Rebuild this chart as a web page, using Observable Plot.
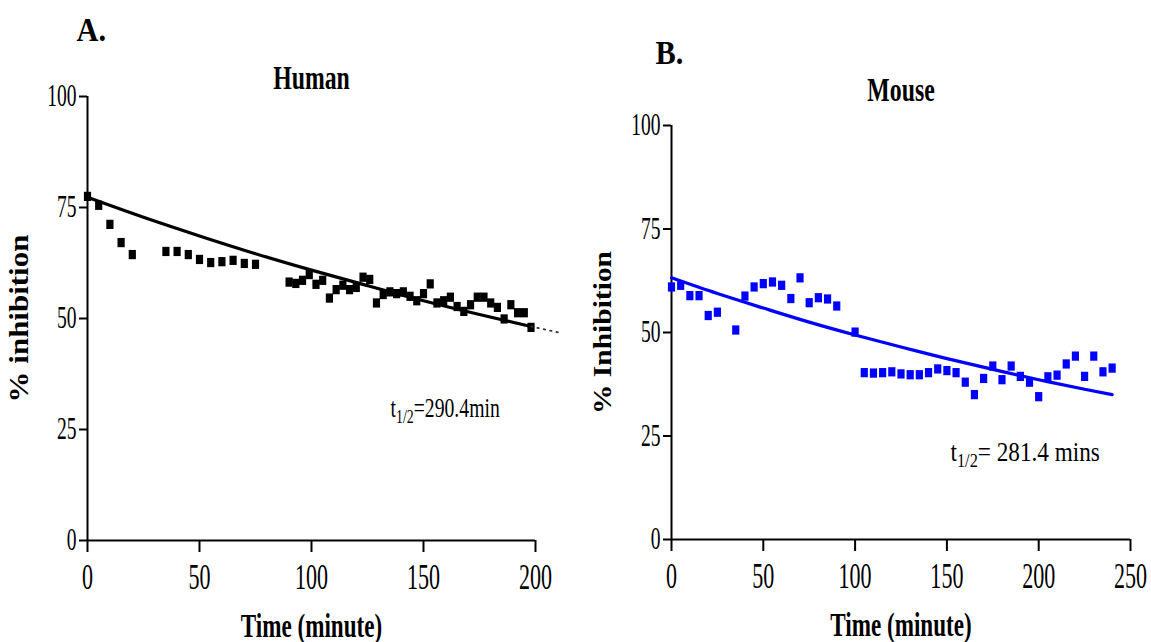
<!DOCTYPE html>
<html><head><meta charset="utf-8">
<script src="https://cdn.jsdelivr.net/npm/d3@7"></script>
<script src="https://cdn.jsdelivr.net/npm/@observablehq/plot@0.6"></script>
<style>
html,body{margin:0;padding:0;background:#fff;}
#wrap{position:relative;width:1151px;height:642px;overflow:hidden;background:#fff;}
#wrap svg{position:absolute;top:0;overflow:visible;}
</style></head><body><div id="wrap"></div>
<script>
// ---- Panel A: Human ----
const humanTime = [0,5,10,15,20,35,40,45,50,55,60,65,70,75,
  90,93,96,99,102,105,108,111,114,117,120,123,126,129,132,135,138,141,144,147,150,
  153,156,159,162,165,168,171,174,177,180,183,186,189,192,195,198];
const humanInh = [77.5,75.5,71.2,67.1,64.4,65.1,65.1,64.4,63.3,62.6,62.8,63.1,62.4,62.2,
  58.2,57.9,58.6,59.9,57.7,58.6,54.6,56.5,57.5,56.5,57.0,59.3,58.8,53.5,55.4,56.0,55.6,56.0,55.0,54.0,55.6,
  57.8,53.5,54.0,54.8,52.7,51.6,53.1,54.8,54.8,53.5,52.5,49.9,53.1,51.3,51.3,48.0];
const humanFitT = [0,25,50,75,100,125,150,175,198];
const humanFitV = [77.3,72.8,68.6,64.6,60.9,57.4,54.0,50.9,48.2];
const humanExtT = [198,210];
const humanExtV = [48.2,46.9];
const humanXTicks = [0,50,100,150,200];

// ---- Panel B: Mouse ----
const mouseTime = [0,5,10,15,20,25,35,40,45,50,55,60,65,70,75,80,85,90,
  100,105,110,115,120,125,130,135,140,145,150,155,160,165,170,175,180,185,190,195,
  200,205,210,215,220,225,230,235,240];
const mouseInh = [61.0,61.4,58.9,58.9,54.1,54.9,50.6,58.8,61.0,61.8,62.2,61.4,58.2,63.2,57.2,58.4,58.1,56.4,
  50.1,40.3,40.2,40.3,40.5,40.0,39.8,39.8,40.3,41.2,40.8,40.3,38.0,35.0,38.9,41.9,38.6,41.9,39.4,38.0,
  34.5,39.3,39.7,42.4,44.3,39.4,44.3,40.5,41.4];
const mouseFitT = [0,25,50,75,100,125,150,175,200,225,240];
const mouseFitV = [63.2,59.4,55.9,52.5,49.4,46.5,43.7,41.1,38.6,36.3,35.0];
const mouseXTicks = [0,50,100,150,200,250];

const yTicks = [0,25,50,75,100];
const FONT = "'Liberation Serif','Times New Roman',serif";
const BLUE = "#0000ff";

function rectSymbol(w,h){
  return {draw(ctx,size){const k=Math.sqrt(size/(w*h)),W=w*k,H=h*k;ctx.rect(-W/2,-H/2,W,H);}};
}

function makePanel(o){
  const pts = o.times.map((t,i)=>({t, v:o.vals[i]}));
  const fit = o.fitT.map((t,i)=>({t, v:o.fitV[i]}));
  const marks = [
    Plot.ruleX([0],{stroke:"#000",strokeWidth:2}),
    Plot.ruleY([0],{stroke:"#000",strokeWidth:2}),
    Plot.axisY({ticks:yTicks, tickSize:8, tickPadding:3, stroke:"#000", strokeWidth:2, fontSize:31, label:null}),
    Plot.axisX({ticks:o.xTicks, tickSize:12, tickPadding:12, stroke:"#000", strokeWidth:2, fontSize:35, label:null}),
    Plot.line(fit,{x:"t",y:"v",stroke:o.color,strokeWidth:3.2,curve:"natural"}),
    Plot.dot(pts,{x:"t",y:"v",symbol:rectSymbol(7,9),r:4.6,fill:o.color,stroke:"none"}),
    Plot.text([o.title],{frameAnchor:"top",lineAnchor:"bottom",dy:o.titleDy,fontSize:34,fontWeight:"bold"}),
    Plot.text([o.letter],{frameAnchor:"top-left",textAnchor:"start",lineAnchor:"bottom",dx:o.letterDx,dy:o.letterDy,fontSize:33,fontWeight:"bold"}),
    Plot.text([o.ylabel],{frameAnchor:"left",rotate:-90,textAnchor:"middle",lineAnchor:"middle",dx:o.ylabelDx,fontSize:o.ylabelSize,fontWeight:"bold"}),
    Plot.text(["Time (minute)"],{frameAnchor:"bottom",lineAnchor:"bottom",dy:o.xlabelDy,fontSize:33,fontWeight:"bold"}),
    Plot.text([o.note],{frameAnchor:"bottom-left",textAnchor:"start",lineAnchor:"bottom",dx:o.noteDx,dy:o.noteDy,fontSize:27})
  ];
  if (o.extT) {
    const ext = o.extT.map((t,i)=>({t, v:o.extV[i]}));
    marks.push(Plot.line(ext,{x:"t",y:"v",stroke:"#333",strokeWidth:1.8,strokeDasharray:"1.5,5"}));
  }
  const svg = Plot.plot({
    width:o.width, height:642,
    marginLeft:o.ml, marginRight:o.mr, marginTop:o.mt, marginBottom:o.mb,
    x:{domain:o.xDomain}, y:{domain:[0,100]},
    style:{fontFamily:FONT, background:"transparent", color:"#000", overflow:"visible"},
    marks
  });
  svg.style.left = o.left + "px";
  svg.dataset.noteScale = o.noteScale;
  return svg;
}

const svgA = makePanel({left:0,width:575,ml:87,mr:40,mt:96,mb:102,xDomain:[0,200],xTicks:humanXTicks,
  times:humanTime,vals:humanInh,fitT:humanFitT,fitV:humanFitV,extT:humanExtT,extV:humanExtV,color:"#000",
  title:"Human",titleDy:-8,letter:"A.",letterDx:-11,letterDy:-56,ylabel:"% inhibition",ylabelDx:-68,ylabelSize:31,
  xlabelDy:96,note:"t1/2=290.4min",noteDx:303,noteDy:-124,noteScale:0.73});
const svgB = makePanel({left:575,width:576,ml:96,mr:21,mt:125,mb:103,xDomain:[0,250],xTicks:mouseXTicks,
  times:mouseTime,vals:mouseInh,fitT:mouseFitT,fitV:mouseFitV,color:BLUE,
  title:"Mouse",titleDy:-25,letter:"B.",letterDx:-16,letterDy:-62,ylabel:"% Inhibition",ylabelDx:-69,ylabelSize:29.5,
  xlabelDy:96,note:"t1/2= 281.4 mins",noteDx:279,noteDy:-79,noteScale:0.86});

const wrap = document.getElementById("wrap");
wrap.append(svgA, svgB);

const NS = "http://www.w3.org/2000/svg";
function finish(svg){
  const noteScale = +svg.dataset.noteScale;
  svg.querySelectorAll("text").forEach(t=>{
    const s = t.textContent;
    const m = s.match(/^t1\/2(.*)$/);
    if (m) {
      t.textContent = "";
      const a=document.createElementNS(NS,"tspan"); a.textContent="t";
      const b=document.createElementNS(NS,"tspan"); b.textContent="1/2"; b.setAttribute("font-size","19"); b.setAttribute("dy","6");
      const c=document.createElementNS(NS,"tspan"); c.textContent=m[1]; c.setAttribute("dy","-6");
      t.append(a,b,c);
    }
    const tr = t.getAttribute("transform") || "";
    let sc;
    if (/rotate/.test(tr)) sc = "scale(1,0.85)";
    else if (s === "A." || s === "B.") sc = "scale(0.92,1)";
    else if (m) sc = `scale(${noteScale},1)`;
    else if (/^\d+$/.test(s)) sc = "scale(0.63,1)";
    else sc = "scale(0.7,1)";
    t.setAttribute("transform", (tr + " " + sc).trim());
  });
}
finish(svgA); finish(svgB);
</script></body></html>
